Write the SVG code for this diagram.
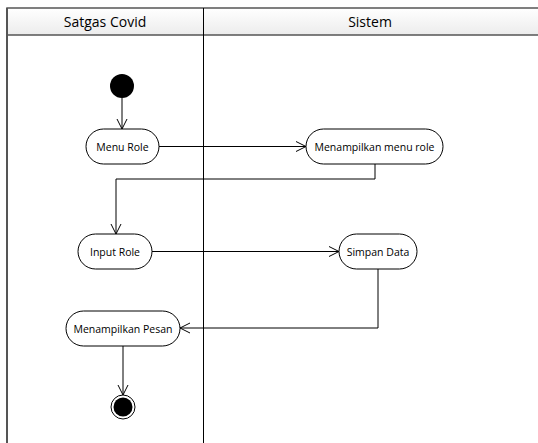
<svg xmlns="http://www.w3.org/2000/svg" width="538" height="443" viewBox="0 0 538 443">
<style>
.node rect{fill:#fff;stroke:#000;stroke-width:1}
.lbl{font-family:"Open Sans","Liberation Sans",sans-serif;font-size:10.5px;fill:#000;text-anchor:middle;dominant-baseline:central}
.hdr{font-family:"Open Sans","Liberation Sans",sans-serif;font-size:14px;fill:#000;text-anchor:middle;dominant-baseline:central}
.conn path{fill:none;stroke:#000;stroke-width:1}
</style>
<defs>
<linearGradient id="hg" x1="0" y1="0" x2="0" y2="1">
<stop offset="0" stop-color="#ffffff"/>
<stop offset="1" stop-color="#ececec"/>
</linearGradient>
<marker id="arr" viewBox="0 0 12 12" refX="11" refY="6" markerWidth="12" markerHeight="12" markerUnits="userSpaceOnUse" orient="auto">
<path d="M1,1 L11,6 L1,11" fill="none" stroke="#000" stroke-width="1"/>
</marker>
</defs>
<rect width="538" height="443" fill="#fff"/>
<g id="swimlanes">
<rect x="7" y="8" width="535" height="27" fill="url(#hg)" stroke="#555" stroke-width="1.5"/>
<line x1="7" y1="8" x2="7" y2="443" stroke="#555" stroke-width="2"/>
<line x1="203.5" y1="8" x2="203.5" y2="443" stroke="#000" stroke-width="1"/>
<text class="hdr" x="105" y="21.5">Satgas Covid</text>
<text class="hdr" x="370" y="21.5">Sistem</text>
</g>
<g class="conn" id="connectors">
<path d="M122,98 V129" marker-end="url(#arr)"/>
<path d="M159,146.5 H306" marker-end="url(#arr)"/>
<path d="M375,164 V179 H116 V234" marker-end="url(#arr)"/>
<path d="M152,251.5 H339" marker-end="url(#arr)"/>
<path d="M378,269 V328 H180" marker-end="url(#arr)"/>
<path d="M123,346 V395" marker-end="url(#arr)"/>
</g>
<g id="start"><circle cx="122" cy="86" r="12" fill="#000"/></g>
<g id="menu-role" class="node"><rect x="86" y="129" width="73" height="35" rx="17.5"/><text class="lbl" x="122.5" y="146.5">Menu Role</text></g>
<g id="menampilkan-menu-role" class="node"><rect x="306" y="129" width="137" height="35" rx="17.5"/><text class="lbl" x="374.5" y="146.5">Menampilkan menu role</text></g>
<g id="input-role" class="node"><rect x="78" y="234" width="74" height="35" rx="17.5"/><text class="lbl" x="115" y="251.5">Input Role</text></g>
<g id="simpan-data" class="node"><rect x="339" y="234" width="78" height="35" rx="17.5"/><text class="lbl" x="378" y="251.5">Simpan Data</text></g>
<g id="menampilkan-pesan" class="node"><rect x="66" y="311" width="114" height="35" rx="17.5"/><text class="lbl" x="123" y="328.5">Menampilkan Pesan</text></g>
<g id="end"><circle cx="123" cy="407" r="12" fill="#fff" stroke="#000" stroke-width="1"/><circle cx="123" cy="407" r="9.5" fill="#000"/></g>
</svg>
